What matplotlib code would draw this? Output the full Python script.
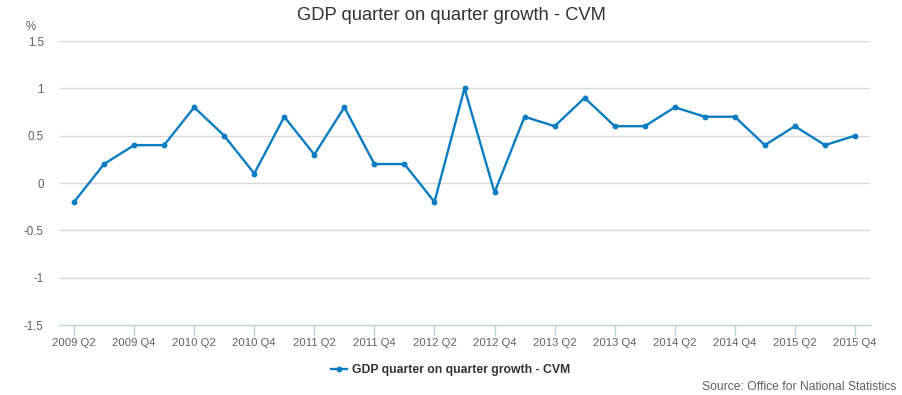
import matplotlib
matplotlib.use("Agg")
import matplotlib.pyplot as plt

plt.rcParams['font.family'] = ['Liberation Sans', 'DejaVu Sans']

# quarterly GDP growth, chained volume measures
quarters = ['2009 Q2', '2009 Q3', '2009 Q4', '2010 Q1', '2010 Q2', '2010 Q3', '2010 Q4',
            '2011 Q1', '2011 Q2', '2011 Q3', '2011 Q4', '2012 Q1', '2012 Q2', '2012 Q3',
            '2012 Q4', '2013 Q1', '2013 Q2', '2013 Q3', '2013 Q4', '2014 Q1', '2014 Q2',
            '2014 Q3', '2014 Q4', '2015 Q1', '2015 Q2', '2015 Q3', '2015 Q4']
growth = [-0.2, 0.2, 0.4, 0.4, 0.8, 0.5, 0.1, 0.7, 0.3, 0.8, 0.2, 0.2, -0.2, 1.0,
          -0.1, 0.7, 0.6, 0.9, 0.6, 0.6, 0.8, 0.7, 0.7, 0.4, 0.6, 0.4, 0.5]
yticks = [-1.5, -1, -0.5, 0, 0.5, 1, 1.5]
ylabels = ['-1.5', '-1', '-0.5', '0', '0.5', '1', '1.5']
series_name = 'GDP quarter on quarter growth - CVM'

W, H = 902, 395
fig = plt.figure(figsize=(W / 100, H / 100), dpi=100)
ax = fig.add_axes([59 / W, 1 - 325 / H, (870 - 59) / W, (325 - 41) / H])

x = list(range(len(quarters)))
line, = ax.plot(x, growth, color='#0A7DC2', lw=1.7, marker='o', ms=3.2, zorder=3,
                label=series_name)

ax.set_xlim(-0.5, len(quarters) - 0.5)
ax.set_ylim(-1.5, 1.5)
ax.set_yticks(yticks)
ax.set_yticklabels(ylabels)
for t in yticks[1:]:
    ax.axhline(t, color='#D8D8D8', lw=1, zorder=1)

shown = x[::2]
ax.set_xticks(shown)
ax.set_xticklabels([quarters[i] for i in shown])
ax.tick_params(axis='x', length=8, width=1, color='#C0D0E0', pad=1,
               labelsize=8.1, labelcolor='#606060')
ax.tick_params(axis='y', length=0, pad=11, labelsize=8.3, labelcolor='#606060')

for s in ['top', 'right', 'left']:
    ax.spines[s].set_visible(False)
ax.spines['bottom'].set_color('#C0D0E0')
ax.spines['bottom'].set_linewidth(1)

fig.text(0.5, 1 - 15 / H, 'GDP quarter on quarter growth - CVM', ha='center', va='center',
         fontsize=13.2, color='#333333')
fig.text(26 / W, 1 - 27 / H, '%', ha='left', va='center', fontsize=8.3, color='#606060')
fig.text(896 / W, 1 - 387 / H, 'Source: Office for National Statistics', ha='right',
         va='center', fontsize=8.7, color='#606060')

leg = fig.legend(handles=[line], loc='center', bbox_to_anchor=(0.5, 1 - 370 / H),
                 frameon=False, handlelength=1.3, handletextpad=0.4,
                 prop={'size': 8.8, 'weight': 'bold'})
for t in leg.get_texts():
    t.set_color('#333333')

fig.savefig('out.png', dpi=100)
